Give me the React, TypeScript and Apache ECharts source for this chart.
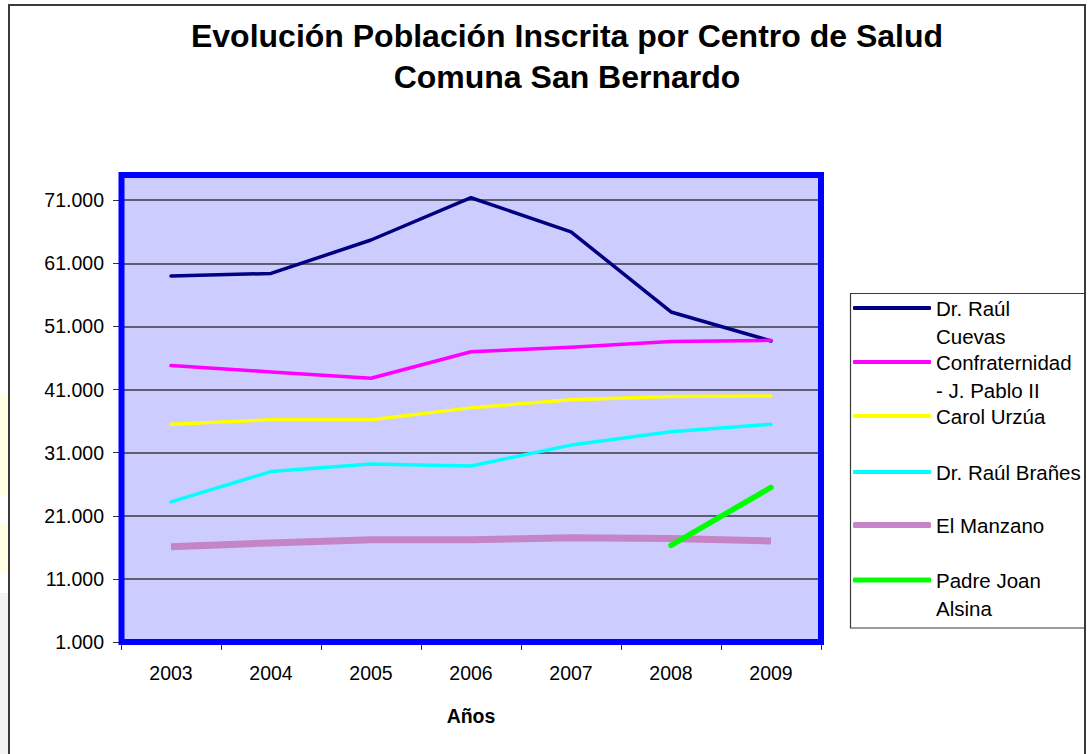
import React, { useEffect, useRef } from "react";
import * as echarts from "echarts";

const years = ["2003", "2004", "2005", "2006", "2007", "2008", "2009"];
const cuevas = [59000, 59400, 64700, 71400, 66000, 53300, 48700];
const confraternidad = [44800, 43800, 42800, 47000, 47700, 48600, 48800];
const carolUrzua = [35500, 36200, 36200, 38100, 39400, 39900, 40000];
const branes = [23200, 28000, 29200, 28900, 32200, 34300, 35500];
const manzano = [16100, 16700, 17200, 17200, 17500, 17400, 17000];
const alsina = [null, null, null, null, null, 16300, 25500];

const yMin = 1000;
const yMax = 75000;
const yInterval = 10000;

const seriesDefs = [
  { name: "Dr. Raúl Cuevas", label: "Dr. Raúl\nCuevas", data: cuevas, color: "#000080", width: 3.5, iconH: 4, cap: "round" },
  { name: "Confraternidad - J. Pablo II", label: "Confraternidad\n- J. Pablo II", data: confraternidad, color: "#FF00FF", width: 3.5, iconH: 4, cap: "round" },
  { name: "Carol Urzúa", label: "Carol Urzúa", data: carolUrzua, color: "#FFFF00", width: 3.5, iconH: 4, cap: "round" },
  { name: "Dr. Raúl Brañes", label: "Dr. Raúl Brañes", data: branes, color: "#00FFFF", width: 3.5, iconH: 4, cap: "round" },
  { name: "El Manzano", label: "El Manzano", data: manzano, color: "#C584C5", width: 7, iconH: 6, cap: "butt" },
  { name: "Padre Joan Alsina", label: "Padre Joan\nAlsina", data: alsina, color: "#00FF00", width: 5.5, iconH: 5, cap: "round" },
];

const legendCenters = [308, 362, 416, 472, 525, 580];

const FONT = "'Liberation Sans', Arial, sans-serif";
const LH = 28;

function fmt(v: number): string {
  return String(v).replace(/\B(?=(\d{3})+(?!\d))/g, ".");
}

export default function App() {
  const ref = useRef<HTMLDivElement>(null);
  useEffect(() => {
    if (!ref.current) return;
    const chart = echarts.init(ref.current, null, { renderer: "svg" });

    const legends = seriesDefs.map((s, i) => {
      const twoLine = s.label.indexOf("\n") >= 0;
      // a leading blank line keeps the first text line level with the icon
      const text = twoLine ? "\n" + s.label : s.label;
      return {
        data: [s.name],
        orient: "vertical",
        left: 853,
        top: legendCenters[i] - (twoLine ? LH * 1.5 : LH / 2),
        padding: 0,
        itemWidth: 78,
        itemHeight: s.iconH,
        icon: "roundRect",
        selectedMode: false,
        formatter: () => text,
        textStyle: {
          fontFamily: FONT,
          fontSize: 20.5,
          color: "#000",
          lineHeight: LH,
        },
      };
    });

    const option: any = {
      animation: false,
      backgroundColor: "#ffffff",
      title: {
        text: "Evolución Población Inscrita por Centro de Salud\nComuna San Bernardo",
        left: 562,
        top: 10,
        textAlign: "center",
        textStyle: {
          fontFamily: FONT,
          fontSize: 32,
          fontWeight: "bold",
          color: "#000",
          lineHeight: 41,
        },
      },
      legend: legends,
      grid: {
        left: 121,
        right: 1089 - 821,
        top: 175,
        bottom: 754 - 642,
        show: true,
        backgroundColor: "#CCCCFF",
        borderWidth: 0,
        outerBoundsMode: "none",
      },
      xAxis: {
        type: "category",
        data: years,
        boundaryGap: true,
        name: "Años",
        nameLocation: "middle",
        nameGap: 64,
        nameTextStyle: { fontFamily: FONT, fontSize: 19.5, fontWeight: "bold", color: "#000" },
        axisLine: { show: false },
        axisTick: { show: true, length: 8, lineStyle: { color: "#333", width: 1 } },
        axisLabel: { fontFamily: FONT, fontSize: 19.5, color: "#000", margin: 21 },
        splitLine: { show: false },
      },
      yAxis: {
        type: "value",
        min: yMin,
        max: yMax,
        interval: yInterval,
        axisLine: { show: false },
        axisTick: { show: true, length: 8, lineStyle: { color: "#333", width: 1 } },
        axisLabel: {
          fontFamily: FONT,
          fontSize: 19.5,
          color: "#000",
          margin: 17,
          showMaxLabel: false,
          formatter: (v: number) => fmt(v),
        },
        splitLine: { show: true, lineStyle: { color: "#5E5E6E", width: 2 } },
      },
      series: seriesDefs.map((s) => ({
        name: s.name,
        type: "line",
        data: s.data,
        color: s.color,
        showSymbol: false,
        symbol: "none",
        connectNulls: false,
        lineStyle: { color: s.color, width: s.width, cap: s.cap, join: "round" },
        emphasis: { disabled: true },
        z: 3,
      })),
      graphic: [
        // faint artifacts at the left edge
        { type: "rect", shape: { x: 0, y: 393, width: 8, height: 102 }, style: { fill: "#FFFFE4" }, silent: true },
        { type: "rect", shape: { x: 0, y: 523, width: 8, height: 50 }, style: { fill: "#FFFFE4" }, silent: true },
        { type: "rect", shape: { x: 0, y: 593, width: 8, height: 161 }, style: { fill: "#F4F4F4" }, silent: true },
        // outer chart border
        {
          type: "rect",
          shape: { x: 9, y: 5, width: 1076, height: 800 },
          style: { fill: "none", stroke: "#3a3a3a", lineWidth: 2 },
          silent: true,
          z: 1,
        },
        // plot area border
        {
          type: "rect",
          shape: { x: 121.5, y: 175, width: 699.5, height: 467 },
          style: { fill: "none", stroke: "#0000FF", lineWidth: 6 },
          silent: true,
          z: 10,
        },
        // legend box
        {
          type: "rect",
          shape: { x: 850.5, y: 293.5, width: 234.5, height: 334.5 },
          style: { fill: "none", stroke: "#3a3a3a", lineWidth: 1.2 },
          silent: true,
          z: 1,
        },
      ],
    };

    chart.setOption(option);
    return () => chart.dispose();
  }, []);

  return (
    <div
      ref={ref}
      style={{ position: "fixed", left: 0, top: 0, width: 1089, height: 754 }}
    />
  );
}
